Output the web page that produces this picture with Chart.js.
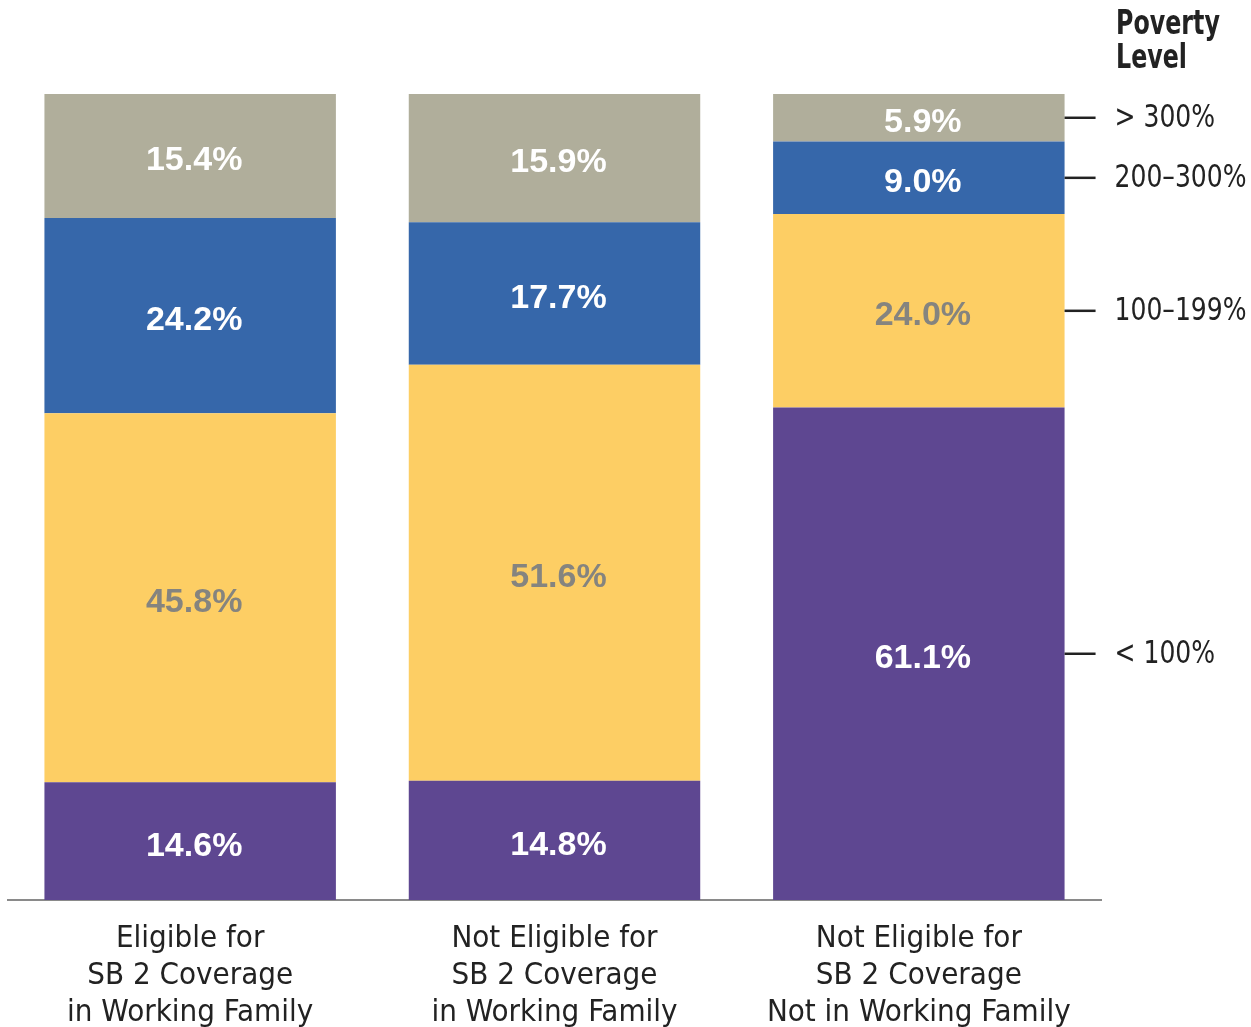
<!DOCTYPE html>
<html lang="en">
<head>
    <meta charset="UTF-8">
    <title>Poverty Level by SB 2 Eligibility</title>
    <script src="https://cdn.jsdelivr.net/npm/chart.js"></script>
    <style>
        html, body { margin: 0; padding: 0; background: #fff; }
        #wrap { width: 1251px; height: 1027px; }
    </style>
</head>
<body>
    <div id="wrap"><canvas id="chart" width="1251" height="1027"></canvas></div>

    <script>
        // categories and series (percent of group)
        const categories = [
            ['Eligible for', 'SB 2 Coverage', 'in Working Family'],
            ['Not Eligible for', 'SB 2 Coverage', 'in Working Family'],
            ['Not Eligible for', 'SB 2 Coverage', 'Not in Working Family']
        ];
        const levels = ['< 100%', '100\u2013199%', '200\u2013300%', '> 300%'];
        const below100 = [14.6, 14.8, 61.1];
        const from100to199 = [45.8, 51.6, 24.0];
        const from200to300 = [24.2, 17.7, 9.0];
        const above300 = [15.4, 15.9, 5.9];

        const colors = ['#5e4791', '#fdce64', '#3667aa', '#b0ae9b'];
        const labelColors = ['#ffffff', '#85847f', '#ffffff', '#ffffff'];

        const condensed = '"Liberation Sans Narrow", "DejaVu Sans Condensed", "Roboto Condensed", sans-serif';
        const boldSans = '"Liberation Sans", Arial, sans-serif';

        // narrow text: squeeze horizontally around the left edge
        function narrowText(ctx, text, x, y, squeeze) {
            ctx.save();
            ctx.translate(x, y);
            ctx.scale(squeeze, 1);
            ctx.fillText(text, 0, 0);
            ctx.restore();
        }

        // value labels inside each segment
        const segmentLabels = {
            id: 'segmentLabels',
            afterDatasetsDraw(chart) {
                const ctx = chart.ctx;
                ctx.save();
                ctx.font = 'bold 34px ' + boldSans;
                ctx.textAlign = 'center';
                ctx.textBaseline = 'middle';
                chart.data.datasets.forEach((ds, i) => {
                    chart.getDatasetMeta(i).data.forEach((bar, j) => {
                        ctx.fillStyle = labelColors[i];
                        ctx.fillText(ds.data[j].toFixed(1) + '%', bar.x + 4, (bar.y + bar.base) / 2 + 5);
                    });
                });
                ctx.restore();
            }
        };

        // level key on the right, lined up with the last bar
        const levelKey = {
            id: 'levelKey',
            afterDraw(chart) {
                const ctx = chart.ctx;
                const last = categories.length - 1;
                ctx.save();
                ctx.fillStyle = '#222';
                ctx.strokeStyle = '#222';
                ctx.lineWidth = 2.5;
                ctx.textBaseline = 'middle';
                ctx.textAlign = 'left';
                chart.data.datasets.forEach((ds, i) => {
                    const bar = chart.getDatasetMeta(i).data[last];
                    const y = (bar.y + bar.base) / 2;
                    const x0 = bar.x + bar.width / 2;
                    ctx.beginPath();
                    ctx.moveTo(x0, y);
                    ctx.lineTo(x0 + 31, y);
                    ctx.stroke();
                    ctx.font = '32px ' + condensed;
                    narrowText(ctx, levels[i], x0 + 50, y + 1, 0.87);
                });
                ctx.font = 'bold 33px ' + condensed;
                const tx = chart.chartArea.right + 15;
                narrowText(ctx, 'Poverty', tx, 25, 0.8);
                narrowText(ctx, 'Level', tx, 59, 0.8);
                ctx.restore();
            }
        };

        const datasets = [below100, from100to199, from200to300, above300].map((vals, i) => ({
            label: levels[i],
            data: vals,
            backgroundColor: colors[i],
            borderWidth: 0,
            barPercentage: 0.8,
            categoryPercentage: 1.0
        }));

        new Chart(document.getElementById('chart'), {
            type: 'bar',
            data: { labels: categories, datasets: datasets },
            options: {
                responsive: false,
                animation: false,
                layout: { padding: { top: 94, left: 8, right: 150, bottom: 0 } },
                plugins: {
                    legend: { display: false },
                    tooltip: { enabled: false }
                },
                scales: {
                    x: {
                        stacked: true,
                        grid: { display: false, drawTicks: false },
                        border: { display: true, color: '#8a8a8a', width: 2 },
                        ticks: {
                            color: '#222',
                            padding: 20,
                            font: { family: condensed, size: 31, lineHeight: 37 / 31 }
                        },
                        afterFit(scale) { scale.height = 127; }
                    },
                    y: {
                        stacked: true,
                        display: false,
                        min: 0,
                        max: 100
                    }
                }
            },
            plugins: [segmentLabels, levelKey]
        });
    </script>
</body>
</html>
